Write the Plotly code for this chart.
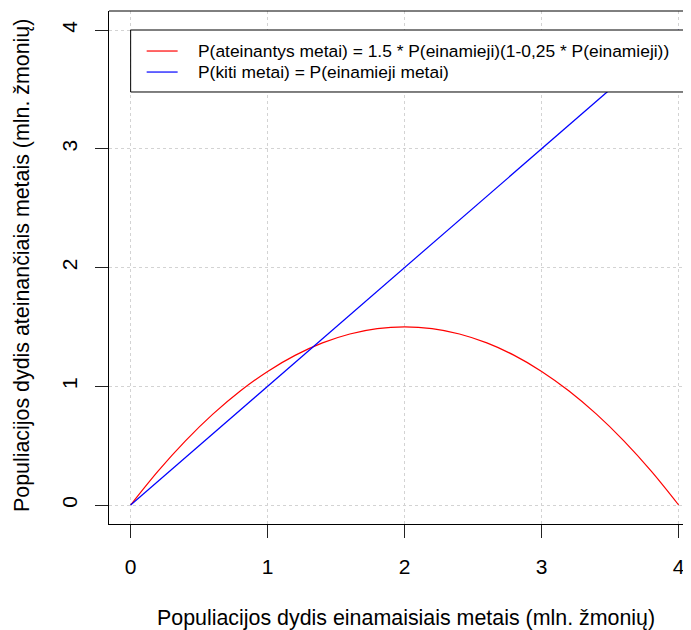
import plotly.graph_objects as go

# data
x_curr = [0, 0.2, 0.4, 0.6, 0.8, 1.0, 1.2, 1.4, 1.6, 1.8, 2.0,
          2.2, 2.4, 2.6, 2.8, 3.0, 3.2, 3.4, 3.6, 3.8, 4.0]
y_next = [0, 0.285, 0.54, 0.765, 0.96, 1.125, 1.26, 1.365, 1.44, 1.485, 1.5,
          1.485, 1.44, 1.365, 1.26, 1.125, 0.96, 0.765, 0.54, 0.285, 0]
x_ident = [0, 4]
y_ident = [0, 4]
tick_vals = [0, 1, 2, 3, 4]
tick_text = ["0", "1", "2", "3", "4"]
legend_labels = ["P(ateinantys metai) = 1.5 * P(einamieji)(1-0,25 * P(einamieji))",
                 "P(kiti metai) = P(einamieji metai)"]
x_title = "Populiacijos dydis einamaisiais metais (mln. žmonių)"
y_title = "Populiacijos dydis ateinančiais metais (mln. žmonių)"

FONT = "Liberation Sans, Arial, sans-serif"
fig = go.Figure()
fig.add_trace(go.Scatter(x=x_curr, y=y_next, mode="lines",
                         line=dict(color="#ff0000", width=1.2, shape="spline"),
                         name=legend_labels[0], showlegend=False))
fig.add_trace(go.Scatter(x=x_ident, y=y_ident, mode="lines",
                         line=dict(color="#0000ff", width=1.2),
                         name=legend_labels[1], showlegend=False))

OFF = 8  # page body margin
W, H = 691 - OFF, 630 - OFF
ml, mt, mb = 109 - OFF, 11 - OFF, 630 - 524
PW, PH = W - ml, H - mt - mb


def px_x(p):
    return (p - OFF - ml) / PW


def px_y(p):
    return (H - mb - (p - OFF)) / PH


axis_common = dict(
    tickvals=tick_vals, ticktext=tick_text,
    showgrid=True, gridcolor="#d3d3d3", griddash="dot", gridwidth=1,
    zeroline=False, showline=True, linecolor="black", linewidth=1,
    ticks="outside", ticklen=13, tickcolor="#222222", tickwidth=1,
    automargin=False,
)
fig.update_layout(
    width=W, height=H,
    margin=dict(l=ml, r=0, t=mt, b=mb),
    plot_bgcolor="white", paper_bgcolor="white",
    font=dict(family=FONT, color="black"),
    xaxis=dict(range=[-0.158, -0.158 + PW / 137.0],
               tickfont=dict(size=21, family=FONT), ticklabelstandoff=11,
               **axis_common),
    yaxis=dict(range=[-0.16, 4.16], tickangle=-90,
               tickfont=dict(size=21, family=FONT), ticklabelstandoff=10,
               **axis_common),
    showlegend=False,
)

# top border of the box (right border falls outside the canvas)
fig.add_shape(type="line", xref="paper", yref="paper", x0=0, x1=1.05, y0=1, y1=1,
              line=dict(color="black", width=1))

# legend box
fig.add_shape(type="rect", xref="x", yref="y", x0=0, x1=4.3, y0=3.478, y1=4,
              line=dict(color="black", width=1), fillcolor="white", layer="above")
leg_y = [3.823, 3.646]
leg_col = ["#ff0000", "#0000ff"]
for ly, lc, lt in zip(leg_y, leg_col, legend_labels):
    fig.add_shape(type="line", xref="x", yref="y", x0=0.117, x1=0.343, y0=ly, y1=ly,
                  line=dict(color=lc, width=1.2), layer="above")
    fig.add_annotation(x=0.474, y=ly, xref="x", yref="y", text=lt, showarrow=False,
                       xanchor="left", yanchor="middle",
                       font=dict(size=17.4, family=FONT, color="black"))

# axis titles
fig.add_annotation(x=px_x(406), y=px_y(618), xref="paper", yref="paper", text=x_title,
                   showarrow=False, xanchor="center", yanchor="middle",
                   font=dict(size=21.4, family=FONT))
fig.add_annotation(x=px_x(22), y=px_y(266), xref="paper", yref="paper", text=y_title,
                   textangle=-90, showarrow=False, xanchor="center", yanchor="middle",
                   font=dict(size=21.4, family=FONT))

fig.write_html("out.html")
